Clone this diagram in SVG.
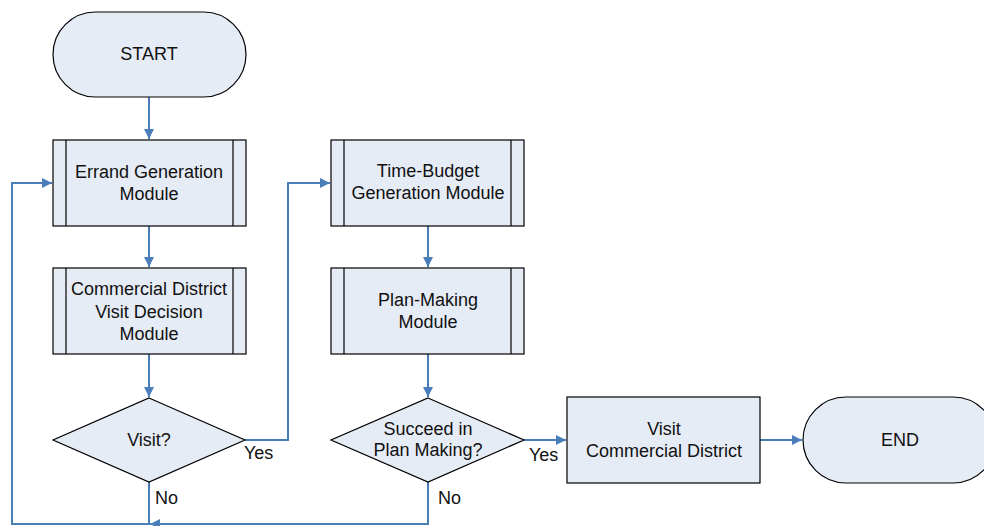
<svg xmlns="http://www.w3.org/2000/svg" width="984" height="526" viewBox="0 0 984 526">
<style>
.box{fill:#e6ecf6;stroke:#000;stroke-width:1.2}
.in{stroke:#000;stroke-width:1.2}
.t{font-family:"Liberation Sans",Arial,sans-serif;font-size:18px;fill:#111;text-anchor:middle}
.l{font-family:"Liberation Sans",Arial,sans-serif;font-size:18px;fill:#111}
.c{fill:none;stroke:#4a7ebb;stroke-width:2}
</style>
<defs>
<marker id="a" markerWidth="10" markerHeight="10" refX="10" refY="5" orient="auto" markerUnits="userSpaceOnUse">
<path d="M0,0 L10,5 L0,10 z" fill="#4a7ebb"/>
</marker>
</defs>
<rect width="984" height="526" fill="#fff"/>
<g id="connectors">
<path class="c" d="M149,97 V139" marker-end="url(#a)"/>
<path class="c" d="M149,226 V267" marker-end="url(#a)"/>
<path class="c" d="M149,354 V397" marker-end="url(#a)"/>
<path class="c" d="M149,482 V524 H12 V183 H52" marker-end="url(#a)"/>
<path class="c" d="M245,440 H288 V183 H330" marker-end="url(#a)"/>
<path class="c" d="M428,226 V267" marker-end="url(#a)"/>
<path class="c" d="M428,354 V397" marker-end="url(#a)"/>
<path class="c" d="M428,482 V524 H150" marker-end="url(#a)"/>
<path class="c" d="M524,440 H566" marker-end="url(#a)"/>
<path class="c" d="M760,440 H802" marker-end="url(#a)"/>
</g>
<g id="start">
<rect class="box" x="53" y="12" width="193" height="85" rx="42.5"/>
<text class="t" x="149" y="60">START</text>
</g>
<g id="errand">
<rect class="box" x="53" y="140" width="193" height="86"/>
<line class="in" x1="66" y1="140" x2="66" y2="226"/>
<line class="in" x1="233" y1="140" x2="233" y2="226"/>
<text class="t" x="149" y="178">Errand Generation</text>
<text class="t" x="149" y="200">Module</text>
</g>
<g id="commercial">
<rect class="box" x="53" y="268" width="193" height="86"/>
<line class="in" x1="66" y1="268" x2="66" y2="354"/>
<line class="in" x1="233" y1="268" x2="233" y2="354"/>
<text class="t" x="149" y="295">Commercial District</text>
<text class="t" x="149" y="318">Visit Decision</text>
<text class="t" x="149" y="340">Module</text>
</g>
<g id="visit">
<polygon class="box" points="149,398 245,440 149,482 53,440"/>
<text class="t" x="149" y="446">Visit?</text>
<text class="l" x="244" y="459">Yes</text>
<text class="l" x="155" y="504">No</text>
</g>
<g id="timebudget">
<rect class="box" x="331" y="140" width="193" height="86"/>
<line class="in" x1="344" y1="140" x2="344" y2="226"/>
<line class="in" x1="511" y1="140" x2="511" y2="226"/>
<text class="t" x="428" y="177">Time-Budget</text>
<text class="t" x="428" y="199">Generation Module</text>
</g>
<g id="planmaking">
<rect class="box" x="331" y="268" width="193" height="86"/>
<line class="in" x1="344" y1="268" x2="344" y2="354"/>
<line class="in" x1="511" y1="268" x2="511" y2="354"/>
<text class="t" x="428" y="306">Plan-Making</text>
<text class="t" x="428" y="328">Module</text>
</g>
<g id="succeed">
<polygon class="box" points="428,398 524,440 428,482 331,440"/>
<text class="t" x="428" y="435">Succeed in</text>
<text class="t" x="428" y="456">Plan Making?</text>
<text class="l" x="529" y="461">Yes</text>
<text class="l" x="438" y="504">No</text>
</g>
<g id="visitcd">
<rect class="box" x="567" y="397" width="193" height="86"/>
<text class="t" x="664" y="435">Visit</text>
<text class="t" x="664" y="457">Commercial District</text>
</g>
<g id="end">
<rect class="box" x="803" y="397" width="193" height="86" rx="43"/>
<text class="t" x="900" y="446">END</text>
</g>
</svg>
